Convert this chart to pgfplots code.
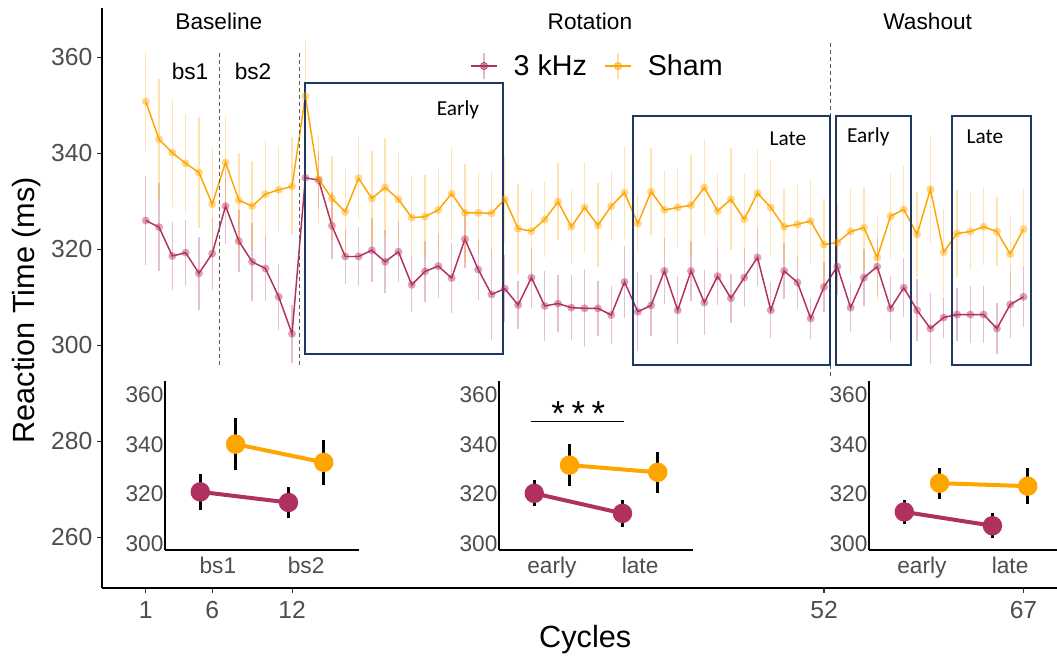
\documentclass[border=0pt]{standalone}
\usepackage{pgfplots}
\pgfplotsset{compat=1.18}
\usepackage{pgfplotstable}
\usepackage{fontspec}
\setmainfont{Liberation Sans}
\newfontfamily\calibri{Carlito}
\definecolor{khz}{HTML}{B03060}
\definecolor{sham}{HTML}{FFA500}
\definecolor{navy}{HTML}{203864}
\definecolor{tickgrey}{HTML}{4D4D4D}

\pgfplotstableread{
c sham sherr khz kherr
1 350.8 10.3 326.0 9.2
2 342.9 12.6 324.6 9.2
3 340.1 11.3 318.6 7.1
4 337.9 10.3 319.3 6.9
5 336.0 11.5 315.0 7.6
6 329.4 12.0 319.1 7.5
7 338.1 9.6 329.0 8.0
8 330.2 9.9 321.7 6.5
9 329.0 9.3 317.4 8.1
10 331.5 11.1 316.0 6.7
11 332.4 8.9 310.1 6.9
12 333.1 10.2 302.4 6.0
13 351.9 11.5 334.9 6.0
14 334.6 9.2 334.4 6.0
15 330.6 8.9 324.9 7.0
16 327.8 9.0 318.5 5.8
17 334.8 8.5 318.5 6.2
18 330.6 9.8 319.8 6.7
19 332.9 10.3 317.4 6.6
20 330.4 9.6 319.5 6.4
21 326.6 8.9 312.6 5.7
22 326.8 8.7 315.4 6.3
23 328.2 8.5 316.5 6.6
24 331.6 9.7 314.0 7.3
25 327.6 10.2 322.1 6.0
26 327.6 8.3 315.8 6.3
27 327.5 8.8 310.6 9.5
28 330.4 9.0 311.8 7.0
29 324.3 9.4 308.4 5.1
30 323.8 8.7 314.1 6.25
31 326.2 7.9 308.2 7.3
32 329.9 8.0 308.7 5.9
33 324.7 7.8 307.85 6.7
34 328.7 9.4 307.7 8.1
35 325.0 8.75 307.7 5.8
36 329.0 7.2 306.3 6.1
37 331.8 9.7 313.2 7.5
38 325.35 5.9 307.0 8.2
39 332.0 9.0 308.3 6.4
40 328.2 8.3 315.5 6.8
41 328.7 8.3 307.3 7.1
42 329.2 10.4 315.5 6.2
43 332.85 9.9 308.9 6.7
44 328.0 7.6 314.4 6.1
45 330.4 10.6 309.8 5.1
46 326.25 9.4 314.1 6.2
47 331.7 8.9 318.3 6.0
48 328.7 9.9 307.3 5.8
49 324.7 7.8 315.5 5.9
50 325.2 8.1 313.1 5.6
51 325.9 8.7 305.6 4.2
52 321.0 9.4 312.15 5.3
53 321.4 8.0 316.4 6.0
54 323.7 8.8 307.85 5.1
55 324.5 8.5 314.1 6.0
56 318.3 8.9 316.4 6.0
57 326.9 8.75 307.7 6.7
58 328.3 9.0 312.0 6.1
59 323.1 8.9 307.3 6.5
60 332.5 11.25 303.5 7.4
61 319.4 8.9 305.8 4.3
62 323.3 9.0 306.4 5.6
63 323.7 8.0 306.4 5.9
64 324.7 8.0 306.4 5.9
65 323.7 7.2 303.5 5.4
66 319.0 8.2 308.5 6.9
67 324.2 8.3 310.1 6.3
}\maindata

\pgfplotsset{
  inset/.style={
    anchor=south west, scale only axis, width=145.5pt, height=126.75pt,
    xmin=0.4, xmax=2.6, ymin=297.4, ymax=365.7,
    axis lines*=left, axis line style={line width=2pt, black},
    major tick length=0pt,
    ytick={300,320,340,360}, yticklabels={300,320,340,360},
    xtick={1,2},
    tick label style={font=\fontsize{17}{19}\selectfont, text=tickgrey},
    yticklabel style={inner xsep=1pt},
    xticklabel style={inner ysep=5pt},
    clip=false,
  },
  khzin/.style={khz, line width=3pt, mark=*, mark size=7.3pt,
    mark options={fill=khz, draw opacity=0, line width=0pt},
    error bars/.cd, y dir=both, y explicit, error mark=none,
    error bar style={black, line width=2.25pt}},
  shamin/.style={sham, line width=3pt, mark=*, mark size=7.3pt,
    mark options={fill=sham, draw opacity=0, line width=0pt},
    error bars/.cd, y dir=both, y explicit, error mark=none,
    error bar style={black, line width=2.25pt}},
}

\begin{document}
\begin{tikzpicture}
\path[use as bounding box] (0,0) rectangle (792.75pt,495.75pt);
\begin{axis}[
  at={(76.5pt,54.75pt)}, anchor=south west, scale only axis,
  width=716.25pt, height=435pt,
  xmin=-2.29, xmax=69.52, ymin=249.44, ymax=370.27,
  axis lines*=left, axis line style={line width=1pt, black},
  tick align=outside, major tick length=3.75pt,
  tick style={line width=0.8pt, color=black!80},
  xtick={1,6,12,52,67}, xticklabels={1,6,12,52,67},
  ytick={260,280,300,320,340,360}, yticklabels={260,280,300,320,340,360},
  tick label style={font=\fontsize{18.5}{20}\selectfont, text=tickgrey},
  xticklabel style={inner ysep=6pt},
  xlabel={Cycles}, ylabel={Reaction Time (ms)},
  label style={font=\fontsize{23}{26}\selectfont},
  xlabel style={at={(axis description cs:0.506,-0.0897)}, anchor=center},
  ylabel style={at={(axis description cs:-0.0785,0.479)}, anchor=center},
  clip=false,
  legend columns=2,
  legend style={draw=none, fill=none, at={(axis description cs:0.3853,0.9)},
    anchor=west, font=\fontsize{21.5}{23}\selectfont, inner sep=0pt,
    /tikz/every even column/.append style={column sep=11pt}},
  legend cell align=left,
]
% error bars + points + lines
\addplot[forget plot, khz, line width=1.1pt, mark=*, mark size=3pt,
  mark options={fill=khz, draw opacity=0, line width=0pt, fill opacity=0.45},
  error bars/.cd, y dir=both, y explicit, error mark=none,
  error bar style={khz, line width=1pt, opacity=0.3}]
  table[x=c, y=khz, y error=kherr]{\maindata};
\addplot[forget plot, sham, line width=1.1pt, mark=*, mark size=3pt,
  mark options={fill=sham, draw opacity=0, line width=0pt, fill opacity=0.45},
  error bars/.cd, y dir=both, y explicit, error mark=none,
  error bar style={sham, line width=1pt, opacity=0.3}]
  table[x=c, y=sham, y error=sherr]{\maindata};

\addlegendimage{legend image code/.code={
  \draw[khz, line width=1.1pt] (0pt,0pt) -- (19.5pt,0pt);
  \draw[khz, line width=1pt, draw opacity=0.35] (9.75pt,-10pt) -- (9.75pt,10pt);
  \fill[khz, fill opacity=0.5] (9.75pt,0pt) circle (2.75pt);}}
\addlegendentry{\hspace{10pt}3 kHz}
\addlegendimage{legend image code/.code={
  \draw[sham, line width=1.1pt] (0pt,0pt) -- (19.5pt,0pt);
  \draw[sham, line width=1pt, draw opacity=0.35] (9.75pt,-10pt) -- (9.75pt,10pt);
  \fill[sham, fill opacity=0.5] (9.75pt,0pt) circle (2.75pt);}}
\addlegendentry{\hspace{10pt}Sham}

% dashed separators
\draw[black!65, line width=0.8pt, dash pattern=on 3pt off 2.25pt] (axis cs:6.55,360.8) -- (axis cs:6.55,295.9);
\draw[black!65, line width=0.8pt, dash pattern=on 3pt off 2.25pt] (axis cs:12.55,360.8) -- (axis cs:12.55,295.9);
\draw[black!65, line width=0.8pt, dash pattern=on 3pt off 2.25pt] (axis cs:52.5,363.0) -- (axis cs:52.5,293.4);

% boxes
\draw[navy, line width=1.5pt] (axis cs:12.98,298.1) rectangle (axis cs:27.84,354.6);
\draw[navy, line width=1.5pt] (axis cs:37.62,295.9) rectangle (axis cs:52.45,347.8);
\draw[navy, line width=1.5pt] (axis cs:52.90,295.9) rectangle (axis cs:58.52,347.8);
\draw[navy, line width=1.5pt] (axis cs:61.65,295.9) rectangle (axis cs:67.56,347.8);

% texts
\node[font=\fontsize{17}{19}\selectfont] at (axis cs:6.5,367.4) {Baseline};
\node[font=\fontsize{17}{19}\selectfont] at (axis cs:34.4,367.4) {Rotation};
\node[font=\fontsize{17}{19}\selectfont] at (axis cs:59.8,367.4) {Washout};
\node[font=\fontsize{17}{19}\selectfont] at (axis cs:4.33,357) {bs1};
\node[font=\fontsize{17}{19}\selectfont] at (axis cs:9.07,357) {bs2};
\node[font=\calibri\fontsize{16}{18}\selectfont] at (axis cs:24.48,349.0) {Early};
\node[font=\calibri\fontsize{16}{18}\selectfont] at (axis cs:49.29,343.0) {Late};
\node[font=\calibri\fontsize{16}{18}\selectfont] at (axis cs:55.33,343.4) {Early};
\node[font=\calibri\fontsize{16}{18}\selectfont] at (axis cs:64.1,343.4) {Late};
\end{axis}

% inset 1: baseline
\begin{axis}[inset, at={(123.75pt,83.25pt)}, xticklabels={bs1,bs2}]
\addplot[khzin] coordinates {(0.8,320.9) +- (0,7.3) (1.8,316.6) +- (0,6.3)};
\addplot[shamin] coordinates {(1.2,340.2) +- (0,10.6) (2.2,332.8) +- (0,9.2)};
\end{axis}

% inset 2: rotation
\begin{axis}[inset, at={(374.25pt,83.25pt)}, xticklabels={early,late}]
\addplot[khzin] coordinates {(0.8,320.3) +- (0,5.3) (1.8,312.2) +- (0,5.4)};
\addplot[shamin] coordinates {(1.2,331.7) +- (0,8.6) (2.2,328.8) +- (0,8.3)};
\draw[black, line width=0.8pt] (axis cs:0.76,349.4) -- (axis cs:1.82,349.4);
\node[font=\fontsize{26}{28}\selectfont, anchor=center] at (axis cs:1.3,352.5) {*\hspace{5pt}*\hspace{5pt}*};
\end{axis}

% inset 3: washout
\begin{axis}[inset, at={(651.75pt,83.25pt)}, xticklabels={early,late}]
\addplot[khzin] coordinates {(0.8,312.8) +- (0,5.0) (1.8,307.2) +- (0,5.0)};
\addplot[shamin] coordinates {(1.2,324.4) +- (0,6.3) (2.2,323.2) +- (0,7.2)};
\end{axis}
\end{tikzpicture}
\end{document}
